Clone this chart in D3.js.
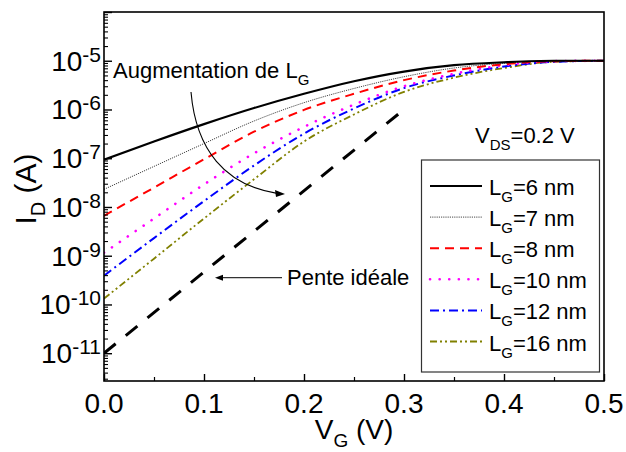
<!DOCTYPE html>
<html><head><meta charset="utf-8">
<script src="https://cdn.jsdelivr.net/npm/d3@7/dist/d3.min.js"></script>
<style>
html,body{margin:0;padding:0;background:#fff;}
svg{display:block;font-family:"Liberation Sans",Arial,Helvetica,sans-serif;}
</style></head>
<body>
<svg id="chart" width="626" height="452"></svg>
<script>
// ---- data ----
const VG = [0, 0.05, 0.1, 0.15, 0.2, 0.25, 0.3, 0.35, 0.4, 0.45, 0.5];
const I_LG6  = [9.3e-8, 2.2e-7, 5.0e-7, 1.07e-6, 2.1e-6, 3.8e-6, 6.0e-6, 8.1e-6, 9.3e-6, 1.0e-5, 1.0e-5];
const I_LG7  = [2.3e-8, 6.8e-8, 2.0e-7, 5.8e-7, 1.38e-6, 2.7e-6, 4.7e-6, 7.1e-6, 8.9e-6, 1.0e-5, 1.0e-5];
const I_LG8  = [6.6e-9, 2.5e-8, 9.5e-8, 3.5e-7, 9.8e-7, 2.1e-6, 4.0e-6, 6.3e-6, 8.5e-6, 9.8e-6, 1.0e-5];
const I_LG10 = [1.15e-9, 5.8e-9, 2.9e-8, 1.26e-7, 4.4e-7, 1.26e-6, 3.0e-6, 5.4e-6, 8.1e-6, 9.8e-6, 1.0e-5];
const I_LG12 = [3.9e-10, 2.3e-9, 1.32e-8, 7.1e-8, 3.2e-7, 1.05e-6, 2.75e-6, 5.0e-6, 7.6e-6, 9.5e-6, 1.0e-5];
const I_LG16 = [1.32e-10, 8.7e-10, 5.8e-9, 3.7e-8, 2.2e-7, 7.9e-7, 2.3e-6, 4.5e-6, 7.1e-6, 9.5e-6, 1.0e-5];
const idealV = [0, 0.3];
const idealI = [1e-11, 1e-6];
const seriesNames = ["6", "7", "8", "10", "12", "16"];
const xTickValues = [0, 0.1, 0.2, 0.3, 0.4, 0.5];
const xTickLabels = ["0.0", "0.1", "0.2", "0.3", "0.4", "0.5"];
const yTickExponents = [-11, -10, -9, -8, -7, -6, -5];

// ---- layout / styles ----
const W = 626, H = 452;
const plot = {left: 104, right: 604, top: 12, bottom: 381};
const styles = [
  {color: "#000000", width: 2.2, dash: null},
  {color: "#333333", width: 0.9, dash: "1.2,1"},
  {color: "#ff0000", width: 2, dash: "9,6"},
  {color: "#ff00ff", width: 2.6, dash: "0.1,9.5"},
  {color: "#0000ff", width: 2, dash: "9,4,2,4"},
  {color: "#808000", width: 1.8, dash: "7,3,2,3,2,3"}
];
const seriesData = [I_LG6, I_LG7, I_LG8, I_LG10, I_LG12, I_LG16];

const svg = d3.select("#chart");
const x = d3.scaleLinear().domain([0, 0.5]).range([plot.left, plot.right]);
const y = d3.scaleLog().domain([Math.pow(10, -11.57), 1e-4]).range([plot.bottom, plot.top]);

svg.append("defs").append("clipPath").attr("id", "clip")
  .append("rect").attr("x", plot.left).attr("y", plot.top)
  .attr("width", plot.right - plot.left).attr("height", plot.bottom - plot.top);

const line = d3.line().x(d => x(d[0])).y(d => y(d[1])).curve(d3.curveMonotoneX);
const g = svg.append("g").attr("clip-path", "url(#clip)");

// ideal slope
g.append("path")
  .datum(idealV.map((v, i) => [v, idealI[i]]))
  .attr("d", d3.line().x(d => x(d[0])).y(d => y(d[1])))
  .attr("fill", "none").attr("stroke", "#000").attr("stroke-width", 3)
  .attr("stroke-dasharray", "15,13");

// series (draw from last to first so solid on top)
for (let s = seriesData.length - 1; s >= 0; s--) {
  const st = styles[s];
  g.append("path")
    .datum(VG.map((v, i) => [v, seriesData[s][i]]))
    .attr("d", line)
    .attr("fill", "none").attr("stroke", st.color).attr("stroke-width", st.width)
    .attr("stroke-linecap", s === 3 ? "round" : "butt")
    .attr("stroke-dasharray", st.dash);
}

// ---- axes ----
const axisG = svg.append("g");
axisG.append("rect").attr("x", plot.left).attr("y", plot.top)
  .attr("width", plot.right - plot.left).attr("height", plot.bottom - plot.top)
  .attr("fill", "none").attr("stroke", "#000").attr("stroke-width", 1.6);

const xAxis = d3.axisBottom(x).tickValues(xTickValues).tickSizeInner(-7).tickSizeOuter(0).tickFormat("");
const xMinor = d3.axisBottom(x).tickValues([0.05, 0.15, 0.25, 0.35, 0.45]).tickSizeInner(-4).tickSizeOuter(0).tickFormat("");
axisG.append("g").attr("transform", `translate(0,${plot.bottom})`).call(xAxis)
  .call(a => a.select(".domain").remove()).selectAll("line").attr("stroke-width", 1.4);
axisG.append("g").attr("transform", `translate(0,${plot.bottom})`).call(xMinor)
  .call(a => a.select(".domain").remove()).selectAll("line").attr("stroke-width", 1.2);

const yMajorVals = [-11, -10, -9, -8, -7, -6, -5, -4].map(e => Math.pow(10, e));
const yMinorVals = [];
for (let e = -12; e <= -5; e++) for (let k = 2; k <= 9; k++) {
  const v = k * Math.pow(10, e);
  if (v > y.domain()[0] && v < y.domain()[1]) yMinorVals.push(v);
}
axisG.append("g").attr("transform", `translate(${plot.left},0)`)
  .call(d3.axisLeft(y).tickValues(yMajorVals).tickSizeInner(-8).tickSizeOuter(0).tickFormat(""))
  .call(a => a.select(".domain").remove()).selectAll("line").attr("stroke-width", 1.4);
axisG.append("g").attr("transform", `translate(${plot.left},0)`)
  .call(d3.axisLeft(y).tickValues(yMinorVals).tickSizeInner(-4).tickSizeOuter(0).tickFormat(""))
  .call(a => a.select(".domain").remove()).selectAll("line").attr("stroke-width", 1.1);

// x tick labels
xTickValues.forEach((v, i) => {
  svg.append("text").attr("x", x(v)).attr("y", plot.bottom + 32)
    .attr("text-anchor", "middle").attr("font-size", 28).attr("fill", "#000")
    .text(xTickLabels[i]);
});
// y tick labels
yTickExponents.forEach(e => {
  const t = svg.append("text").attr("x", plot.left - 3).attr("y", y(Math.pow(10, e)) + 10)
    .attr("text-anchor", "end").attr("font-size", 28).attr("fill", "#000");
  t.append("tspan").text("10");
  t.append("tspan").attr("font-size", 21).attr("dy", -9).text(String(e));
});

// axis titles
const xt = svg.append("text").attr("x", (plot.left + plot.right) / 2).attr("y", 439)
  .attr("text-anchor", "middle").attr("font-size", 28).attr("fill", "#000");
xt.append("tspan").text("V");
xt.append("tspan").attr("font-size", 19).attr("dy", 8).text("G");
xt.append("tspan").attr("dy", -8).text(" (V)");

const yt = svg.append("text").attr("transform", `translate(36,189) rotate(-90)`)
  .attr("text-anchor", "middle").attr("font-size", 30).attr("fill", "#000");
yt.append("tspan").text("I");
yt.append("tspan").attr("font-size", 20).attr("dy", 9).text("D");
yt.append("tspan").attr("dy", -9).text(" (A)");

// ---- annotations ----
const ann = svg.append("g");
const aug = ann.append("text").attr("x", x(0.009)).attr("y", y(Math.pow(10, -5.354)))
  .attr("font-size", 22).attr("fill", "#000");
aug.append("tspan").text("Augmentation de L");
aug.append("tspan").attr("font-size", 15).attr("dy", 7).text("G");

// curved arrow
const p0 = [x(0.087), y(Math.pow(10, -5.641))];
const c1 = [x(0.092), y(Math.pow(10, -6.83))];
const c2 = [x(0.121), y(Math.pow(10, -7.55))];
const p1 = [x(0.179), y(Math.pow(10, -7.733))];
ann.append("path")
  .attr("d", `M${p0[0]},${p0[1]} C${c1[0]},${c1[1]} ${c2[0]},${c2[1]} ${p1[0] - 6},${p1[1] - 0.6}`)
  .attr("fill", "none").attr("stroke", "#000").attr("stroke-width", 1.1);
ann.append("path")
  .attr("d", `M${p1[0] + 2},${p1[1]} L${p1[0] - 8},${p1[1] - 4} L${p1[0] - 7},${p1[1] + 3} Z`)
  .attr("fill", "#000");

// Pente idéale
const pyA = y(Math.pow(10, -9.45));
ann.append("line").attr("x1", x(0.178)).attr("x2", x(0.117)).attr("y1", pyA).attr("y2", pyA)
  .attr("stroke", "#333").attr("stroke-width", 1.2);
ann.append("path")
  .attr("d", `M${x(0.111)},${pyA} L${x(0.119)},${pyA - 3} L${x(0.119)},${pyA + 3} Z`)
  .attr("fill", "#000");
ann.append("text").attr("x", x(0.183)).attr("y", y(Math.pow(10, -9.60)))
  .attr("font-size", 22).attr("fill", "#000").text("Pente idéale");

// VDS
const vds = ann.append("text").attr("x", x(0.371)).attr("y", y(Math.pow(10, -6.687)))
  .attr("font-size", 22).attr("fill", "#000");
vds.append("tspan").text("V");
vds.append("tspan").attr("font-size", 15).attr("dy", 7).text("DS");
vds.append("tspan").attr("dy", -7).text("=0.2 V");

// ---- legend ----
const leg = svg.append("g");
leg.append("rect").attr("x", 421.5).attr("y", 160).attr("width", 178).attr("height", 212)
  .attr("fill", "#fff").attr("stroke", "#333").attr("stroke-width", 1.2);
seriesNames.forEach((nm, i) => {
  const yy = 186 + i * 31.1;
  const st = styles[i];
  leg.append("line").attr("x1", 430).attr("x2", 482).attr("y1", yy).attr("y2", yy)
    .attr("stroke", st.color).attr("stroke-width", st.width)
    .attr("stroke-linecap", i === 3 ? "round" : "butt")
    .attr("stroke-dasharray", st.dash);
  const t = leg.append("text").attr("x", 489).attr("y", yy + 9).attr("font-size", 22).attr("fill", "#000");
  t.append("tspan").text("L");
  t.append("tspan").attr("font-size", 15).attr("dy", 7).text("G");
  t.append("tspan").attr("dy", -7).text("=" + nm + " nm");
});
</script>
</body></html>
